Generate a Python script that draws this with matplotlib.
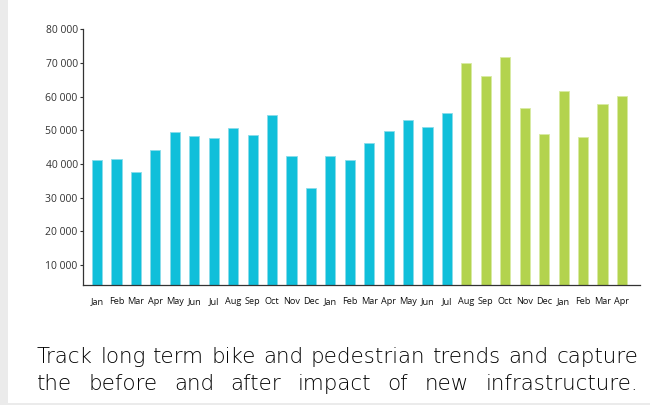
import matplotlib
matplotlib.use('Agg')
import matplotlib.pyplot as plt
from matplotlib.patches import Rectangle

months = ["Jan", "Feb", "Mar", "Apr", "May", "Jun", "Jul", "Aug", "Sep", "Oct",
          "Nov", "Dec", "Jan", "Feb", "Mar", "Apr", "May", "Jun", "Jul",
          "Aug", "Sep", "Oct", "Nov", "Dec", "Jan", "Feb", "Mar", "Apr"]
before_values = [41100, 41500, 37500, 44200, 49500, 48200, 47800, 50700, 48700,
                 54600, 42200, 32900, 42400, 41300, 46300, 49900, 53100, 51100, 55200]
after_values = [70000, 66200, 71800, 56700, 48900, 61700, 48000, 57900, 60200]
y_ticks = [10000, 20000, 30000, 40000, 50000, 60000, 70000, 80000]
caption_lines = ["Track long term bike and pedestrian trends and capture",
                 "the before and after impact of new infrastructure."]

W, H = 650, 405
fig = plt.figure(figsize=(W / 100, H / 100), dpi=100)
fig.patch.set_facecolor('white')
fig.add_artist(Rectangle((0, 0), 8 / W, 1, transform=fig.transFigure,
                         facecolor='#ebebeb', edgecolor='none', zorder=0))
fig.add_artist(Rectangle((0, 0), 1, 2.5 / H, transform=fig.transFigure,
                         facecolor='#ebebeb', edgecolor='none', zorder=0))

left, right, top, bottom = 82.5, 640, 29.3, 285
ax = fig.add_axes([left / W, (H - bottom) / H, (right - left) / W, (bottom - top) / H])
ax.set_facecolor('none')

n_before = len(before_values)
x_before = list(range(n_before))
x_after = list(range(n_before, n_before + len(after_values)))
ax.bar(x_before, before_values, width=0.52, color='#10BFDA',
       edgecolor='#8adcea', linewidth=0.6)
ax.bar(x_after, after_values, width=0.52, color='#B3D34E',
       edgecolor='#d8eba3', linewidth=0.6)

ax.set_xlim(-0.75, 27.93)
ax.set_ylim(4000, 80000)

for s in ['top', 'right']:
    ax.spines[s].set_visible(False)
for s in ['left', 'bottom']:
    ax.spines[s].set_color('#333333')
    ax.spines[s].set_linewidth(0.9)

ax.set_yticks(y_ticks)
ax.set_yticklabels([f"{v:,}".replace(',', ' ') for v in y_ticks],
                   fontfamily='Open Sans', fontsize=7.5, color='#333333')
ax.tick_params(axis='y', direction='out', length=2.5, width=0.8, color='#333333', pad=1)

ax.set_xticks(x_before + x_after)
ax.set_xticklabels(months, fontfamily='Open Sans', fontsize=6.6, color='#111111')
ax.tick_params(axis='x', length=0, pad=9)

# justified caption
fig.canvas.draw()
renderer = fig.canvas.get_renderer()
x0, x1 = 37, 638
baselines = [363, 390]
cap_font = dict(fontfamily='DejaVu Sans', fontweight=200)
probe = fig.text(0, 0, caption_lines[0], fontsize=14, **cap_font)
pw = probe.get_window_extent(renderer).width
probe.remove()
fs = 14 * (x1 - x0) / pw * 0.995
for line, yb in zip(caption_lines, baselines):
    words = line.split(' ')
    texts = [fig.text(0, 0, w, fontsize=fs, color='#000000',
                      va='baseline', ha='left', **cap_font) for w in words]
    widths = [t.get_window_extent(renderer).width for t in texts]
    gap = (x1 - x0 - sum(widths)) / (len(words) - 1)
    x = x0
    for t, w in zip(texts, widths):
        t.set_position((x / W, (H - yb) / H))
        x += w + gap

fig.savefig('out.png', dpi=100)
